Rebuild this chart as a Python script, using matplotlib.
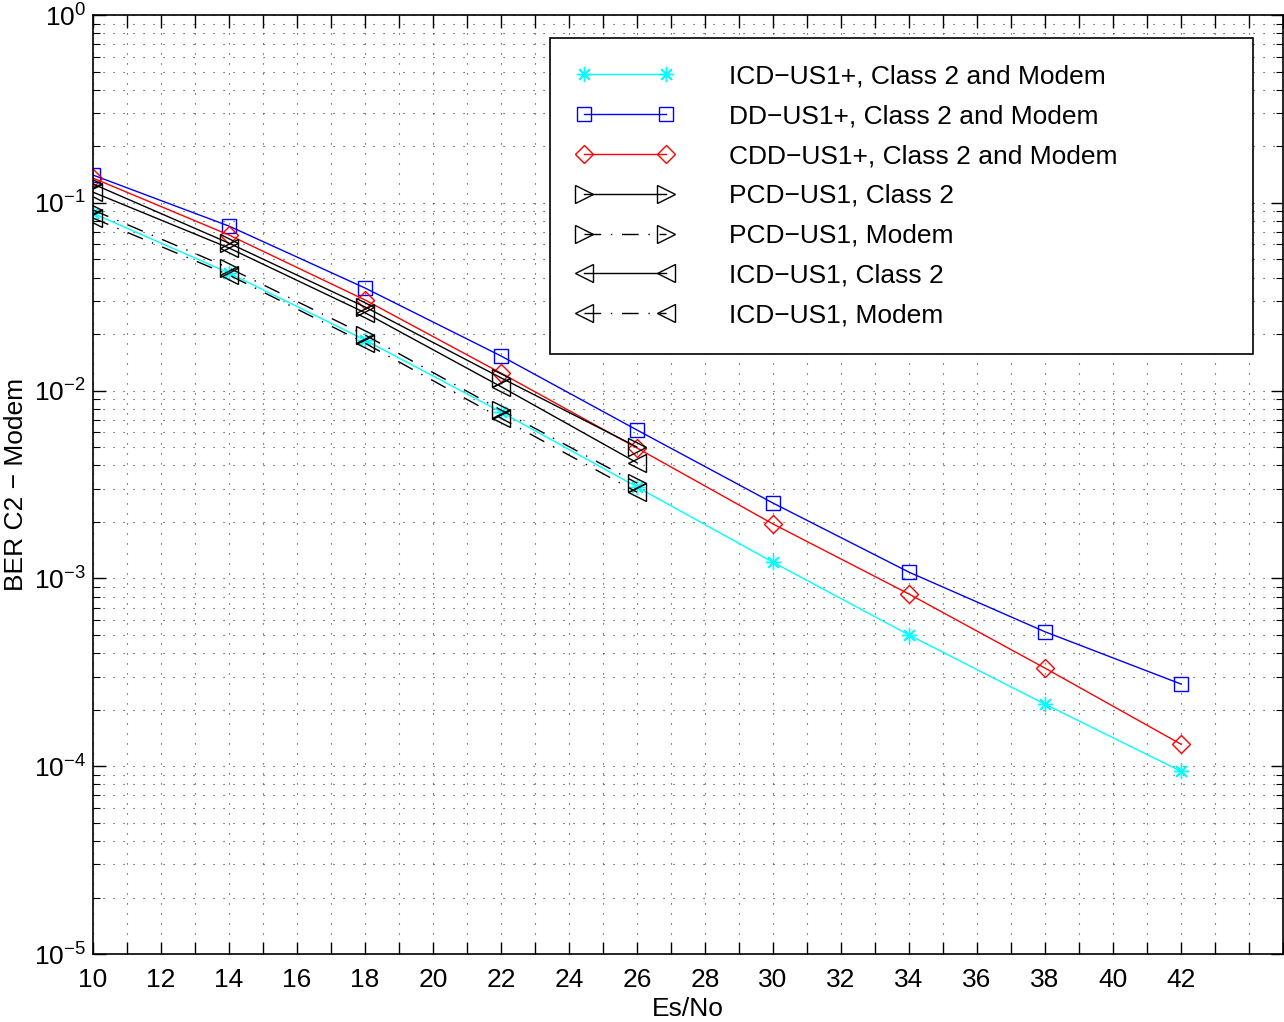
import matplotlib
matplotlib.use("Agg")
import matplotlib.pyplot as plt
from matplotlib.ticker import MultipleLocator, LogLocator, NullFormatter

plt.rcParams["font.family"] = ["Liberation Sans", "DejaVu Sans"]
plt.rcParams["mathtext.fontset"] = "custom"
plt.rcParams["mathtext.rm"] = "Liberation Sans"
plt.rcParams["mathtext.it"] = "Liberation Sans"
plt.rcParams["mathtext.default"] = "regular"

esno_long = [10, 14, 18, 22, 26, 30, 34, 38, 42]
esno_short = [10, 14, 18, 22, 26]

icd_us1p = [0.088, 0.0423, 0.0186, 0.0077, 0.00307, 0.00122, 0.00050, 0.000214, 0.000094]
dd_us1p = [0.1406, 0.0752, 0.0352, 0.0153, 0.00617, 0.00252, 0.00108, 0.00052, 0.000274]
cdd_us1p = [0.1355, 0.0674, 0.0304, 0.0124, 0.00495, 0.00195, 0.000826, 0.000333, 0.000131]
pcd_c2 = [0.126, 0.061, 0.0279, 0.0117, 0.00501]
icd_c2 = [0.114, 0.0575, 0.0260, 0.0105, 0.00413]
pcd_modem = [0.0916, 0.045, 0.0198, 0.00788, 0.00322]
icd_modem = [0.083, 0.0413, 0.0179, 0.00714, 0.00288]

labels = [
    "ICD\u2212US1+, Class 2 and Modem",
    "DD\u2212US1+, Class 2 and Modem",
    "CDD\u2212US1+, Class 2 and Modem",
    "PCD\u2212US1, Class 2",
    "PCD\u2212US1, Modem",
    "ICD\u2212US1, Class 2",
    "ICD\u2212US1, Modem",
]

dashdot = (0, (12, 7, 1, 7))
common = dict(linewidth=1.0, markerfacecolor="none", markeredgewidth=1.0)

fig = plt.figure(figsize=(12.84, 10.22), dpi=100)
ax = fig.add_axes([0.0724, 0.0665, 0.9268, 0.9188])

ax.semilogy(esno_long, icd_us1p, color="#00ffff", marker=(8, 2, 0), linestyle="-",
            markersize=11, label=labels[0], **common)
ax.semilogy(esno_long, dd_us1p, color="#0000ff", marker="s", linestyle="-",
            markersize=9.5, label=labels[1], **common)
ax.semilogy(esno_long, cdd_us1p, color="#ff0000", marker="D", linestyle="-",
            markersize=9.5, label=labels[2], **common)
ax.semilogy(esno_short, pcd_c2, color="black", marker=">", linestyle="-",
            markersize=13, label=labels[3], **common)
ax.semilogy(esno_short, pcd_modem, color="black", marker=">", linestyle=dashdot,
            markersize=13, label=labels[4], **common)
ax.semilogy(esno_short, icd_c2, color="black", marker="<", linestyle="-",
            markersize=13, label=labels[5], **common)
ax.semilogy(esno_short, icd_modem, color="black", marker="<", linestyle=dashdot,
            markersize=13, label=labels[6], **common)

ax.set_xlim(10, 45)
ax.set_ylim(1e-5, 1)
ax.set_xticks(range(10, 43, 2))
ax.xaxis.set_minor_locator(MultipleLocator(1))
ax.yaxis.set_major_locator(LogLocator(base=10, numticks=10))
ax.yaxis.set_minor_locator(LogLocator(base=10, subs=range(2, 10), numticks=20))
ax.yaxis.set_minor_formatter(NullFormatter())

ax.tick_params(which="both", direction="in", top=True, right=True, labelsize=19)
ax.tick_params(which="major", length=9, width=1.0)
ax.tick_params(which="minor", length=5, width=0.8)
ax.tick_params(axis="x", which="minor", length=9, width=1.0)
ax.tick_params(axis="x", which="major", pad=10)
ax.tick_params(axis="y", which="major", pad=5)
ax.grid(True, which="both", color="#333333", linestyle=(0, (1, 8)), linewidth=0.8)

for sp in ax.spines.values():
    sp.set_linewidth(1.2)

ax.set_xlabel("Es/No", fontsize=19, labelpad=4)
ax.set_ylabel("BER C2 \u2212 Modem", fontsize=19, labelpad=4)

leg = ax.legend(loc="upper left", bbox_to_anchor=(0.384, 0, 0.591, 0.9755),
                mode="expand", numpoints=2, fontsize=19,
                handlelength=3.7, handletextpad=2.1, labelspacing=0.6,
                borderpad=1.0, borderaxespad=0, fancybox=False, framealpha=1,
                edgecolor="black")
leg.get_frame().set_linewidth(1.2)

fig.savefig("out.png", dpi=100)
